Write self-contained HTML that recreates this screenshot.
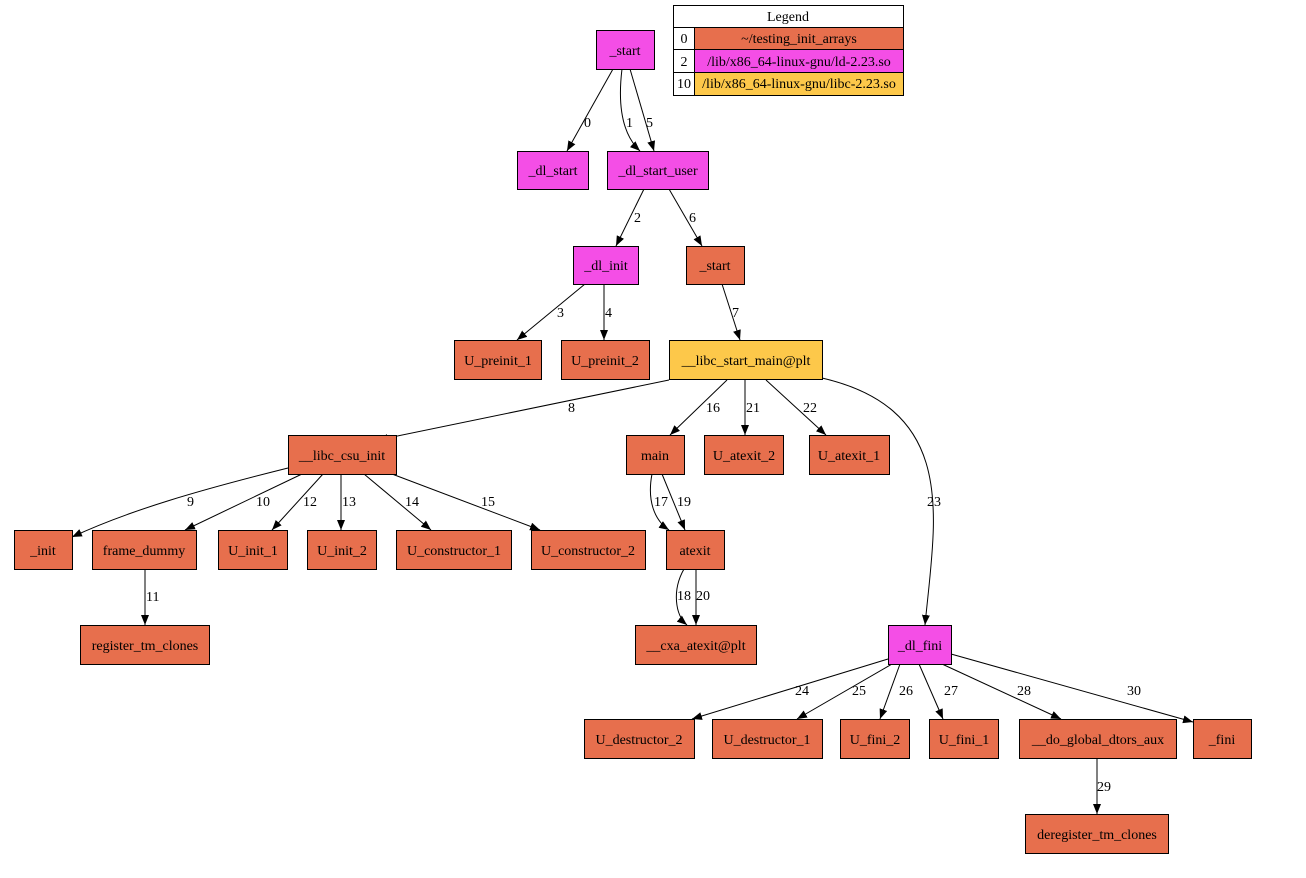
<!DOCTYPE html>
<html><head><meta charset="utf-8"><style>
body{margin:0;background:#fff;width:1306px;height:873px;overflow:hidden}
svg text{font-family:"Liberation Serif",serif;font-size:14px;fill:#000}
.o{fill:#e76f4d;stroke:#000;stroke-width:1}
.m{fill:#f44ee6;stroke:#000;stroke-width:1}
.y{fill:#fdc84a;stroke:#000;stroke-width:1}
.e{fill:none;stroke:#000;stroke-width:1;marker-end:url(#a)}
</style></head><body>
<svg width="1306" height="873" xmlns="http://www.w3.org/2000/svg">
<defs><marker id="a" markerWidth="10" markerHeight="8" refX="10" refY="4" orient="auto" markerUnits="userSpaceOnUse"><path d="M0,0 L10,4 L0,8 z" fill="#000"/></marker></defs>
<!-- legend -->
<rect x="673.5" y="5.5" width="230" height="90" fill="#fff" stroke="#000"/>
<line x1="673.5" y1="27.5" x2="903.5" y2="27.5" stroke="#000"/>
<rect x="694.5" y="27.5" width="209" height="22" class="o"/>
<rect x="694.5" y="49.5" width="209" height="23" class="m"/>
<rect x="694.5" y="72.5" width="209" height="23" class="y"/>
<line x1="673.5" y1="49.5" x2="694.5" y2="49.5" stroke="#000"/>
<line x1="673.5" y1="72.5" x2="694.5" y2="72.5" stroke="#000"/>
<line x1="694.5" y1="27.5" x2="694.5" y2="95.5" stroke="#000"/>
<g text-anchor="middle">
<text x="788" y="21">Legend</text>
<text x="684" y="43">0</text><text x="799" y="43">~/testing_init_arrays</text>
<text x="684" y="66">2</text><text x="799" y="66">/lib/x86_64-linux-gnu/ld-2.23.so</text>
<text x="684" y="88">10</text><text x="799" y="88">/lib/x86_64-linux-gnu/libc-2.23.so</text>
</g>
<!-- edges -->
<path class="e" d="M613,69 L567,151"/>
<path class="e" d="M622,69 C617,110 624,136 640,151"/>
<path class="e" d="M630,69 L654,151"/>
<path class="e" d="M644,189 L616,246"/>
<path class="e" d="M669,189 L702,246"/>
<path class="e" d="M585,284 L517,340"/>
<path class="e" d="M604,284 L604,340"/>
<path class="e" d="M722,284 L740,340"/>
<path class="e" d="M669,380 L378,440"/>
<path class="e" d="M727,380 L670,435"/>
<path class="e" d="M745,380 L745,435"/>
<path class="e" d="M766,380 L826,435"/>
<path class="e" d="M822,378 C960,410 935,520 925,625"/>
<path class="e" d="M288,468 C200,490 130,510 72,537"/>
<path class="e" d="M302,474 L185,530"/>
<path class="e" d="M323,474 L272,530"/>
<path class="e" d="M341,474 L341,530"/>
<path class="e" d="M364,474 L431,530"/>
<path class="e" d="M392,474 L540,530"/>
<path class="e" d="M145,569 L145,625"/>
<path class="e" d="M652,474 C647,500 654,520 669,530"/>
<path class="e" d="M662,474 L685,530"/>
<path class="e" d="M684,569 C672,590 675,615 687,625"/>
<path class="e" d="M696,569 L696,625"/>
<path class="e" d="M888,659 L692,719"/>
<path class="e" d="M892,664 L797,719"/>
<path class="e" d="M900,664 L880,719"/>
<path class="e" d="M919,664 L943,719"/>
<path class="e" d="M942,664 L1061,719"/>
<path class="e" d="M951,654 L1193,722"/>
<path class="e" d="M1097,758 L1097,814"/>
<!-- edge labels -->
<g>
<text x="584" y="127">0</text><text x="626" y="127">1</text><text x="646" y="127">5</text>
<text x="634" y="222">2</text><text x="689" y="222">6</text>
<text x="557" y="317">3</text><text x="605" y="317">4</text><text x="732" y="317">7</text>
<text x="568" y="412">8</text><text x="706" y="412">16</text><text x="746" y="412">21</text><text x="803" y="412">22</text>
<text x="927" y="506">23</text>
<text x="187" y="506">9</text><text x="256" y="506">10</text><text x="303" y="506">12</text><text x="342" y="506">13</text><text x="405" y="506">14</text><text x="481" y="506">15</text>
<text x="146" y="601">11</text>
<text x="654" y="506">17</text><text x="677" y="506">19</text>
<text x="677" y="600">18</text><text x="696" y="600">20</text>
<text x="795" y="695">24</text><text x="852" y="695">25</text><text x="899" y="695">26</text><text x="944" y="695">27</text><text x="1017" y="695">28</text><text x="1127" y="695">30</text>
<text x="1097" y="791">29</text>
</g>
<!-- nodes -->
<g>
<rect class="m" x="596.5" y="30.5" width="58" height="39"/>
<rect class="m" x="517.5" y="151.5" width="71" height="38"/>
<rect class="m" x="607.5" y="151.5" width="101" height="38"/>
<rect class="m" x="573.5" y="246.5" width="65" height="38"/>
<rect class="o" x="686.5" y="246.5" width="58" height="38"/>
<rect class="o" x="454.5" y="340.5" width="87" height="39"/>
<rect class="o" x="561.5" y="340.5" width="88" height="39"/>
<rect class="y" x="669.5" y="340.5" width="153" height="39"/>
<rect class="o" x="288.5" y="435.5" width="108" height="39"/>
<rect class="o" x="626.5" y="435.5" width="58" height="39"/>
<rect class="o" x="704.5" y="435.5" width="79" height="39"/>
<rect class="o" x="809.5" y="435.5" width="80" height="39"/>
<rect class="o" x="14.5" y="530.5" width="58" height="39"/>
<rect class="o" x="92.5" y="530.5" width="104" height="39"/>
<rect class="o" x="218.5" y="530.5" width="69" height="39"/>
<rect class="o" x="307.5" y="530.5" width="69" height="39"/>
<rect class="o" x="396.5" y="530.5" width="115" height="39"/>
<rect class="o" x="531.5" y="530.5" width="114" height="39"/>
<rect class="o" x="666.5" y="530.5" width="58" height="39"/>
<rect class="o" x="80.5" y="625.5" width="129" height="39"/>
<rect class="o" x="635.5" y="625.5" width="121" height="39"/>
<rect class="m" x="888.5" y="625.5" width="63" height="39"/>
<rect class="o" x="584.5" y="719.5" width="110" height="39"/>
<rect class="o" x="712.5" y="719.5" width="110" height="39"/>
<rect class="o" x="840.5" y="719.5" width="69" height="39"/>
<rect class="o" x="929.5" y="719.5" width="69" height="39"/>
<rect class="o" x="1019.5" y="719.5" width="157" height="39"/>
<rect class="o" x="1193.5" y="719.5" width="58" height="39"/>
<rect class="o" x="1025.5" y="814.5" width="143" height="39"/>
</g>
<g text-anchor="middle">
<text x="625" y="55">_start</text>
<text x="553" y="175">_dl_start</text>
<text x="658" y="175">_dl_start_user</text>
<text x="606" y="270">_dl_init</text>
<text x="715" y="270">_start</text>
<text x="498" y="365">U_preinit_1</text>
<text x="605" y="365">U_preinit_2</text>
<text x="746" y="365">__libc_start_main@plt</text>
<text x="342" y="460">__libc_csu_init</text>
<text x="655" y="460">main</text>
<text x="744" y="460">U_atexit_2</text>
<text x="849" y="460">U_atexit_1</text>
<text x="43" y="555">_init</text>
<text x="144" y="555">frame_dummy</text>
<text x="253" y="555">U_init_1</text>
<text x="342" y="555">U_init_2</text>
<text x="454" y="555">U_constructor_1</text>
<text x="588" y="555">U_constructor_2</text>
<text x="695" y="555">atexit</text>
<text x="145" y="650">register_tm_clones</text>
<text x="696" y="650">__cxa_atexit@plt</text>
<text x="920" y="650">_dl_fini</text>
<text x="639" y="744">U_destructor_2</text>
<text x="767" y="744">U_destructor_1</text>
<text x="875" y="744">U_fini_2</text>
<text x="964" y="744">U_fini_1</text>
<text x="1098" y="744">__do_global_dtors_aux</text>
<text x="1222" y="744">_fini</text>
<text x="1097" y="839">deregister_tm_clones</text>
</g>
</svg>
</body></html>
